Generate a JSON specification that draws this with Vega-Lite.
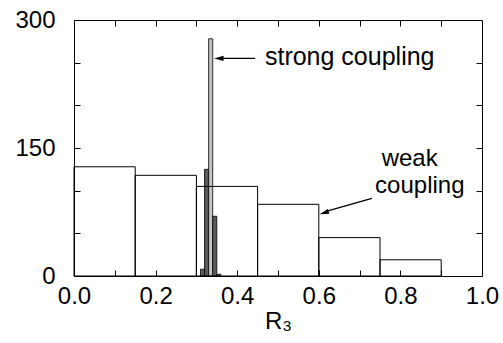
{
  "$schema": "https://vega.github.io/schema/vega-lite/v6.json",
  "width": 408,
  "height": 256,
  "autosize": "none",
  "padding": {"left": 74, "top": 20, "right": 21, "bottom": 67},
  "config": {
    "view": {"stroke": "black", "strokeWidth": 1},
    "font": "Liberation Sans",
    "axis": {
      "domainColor": "black",
      "tickColor": "black",
      "labelColor": "black",
      "titleColor": "black",
      "grid": false,
      "labelFont": "Liberation Sans",
      "titleFont": "Liberation Sans",
      "labelFontSize": 24,
      "titleFontSize": 24,
      "titleFontWeight": "normal",
      "tickWidth": 1
    }
  },
  "datasets": {
    "hist": [
      {"coupling": "weak", "r_start": 0.0, "r_end": 0.15, "count": 128},
      {"coupling": "weak", "r_start": 0.15, "r_end": 0.3, "count": 118},
      {"coupling": "weak", "r_start": 0.3, "r_end": 0.45, "count": 105},
      {"coupling": "weak", "r_start": 0.45, "r_end": 0.6, "count": 84},
      {"coupling": "weak", "r_start": 0.6, "r_end": 0.75, "count": 45},
      {"coupling": "weak", "r_start": 0.75, "r_end": 0.9, "count": 19},
      {"coupling": "strong", "r_start": 0.31, "r_end": 0.32, "count": 8},
      {"coupling": "strong", "r_start": 0.32, "r_end": 0.33, "count": 125},
      {"coupling": "strong", "r_start": 0.33, "r_end": 0.34, "count": 278},
      {"coupling": "strong", "r_start": 0.34, "r_end": 0.35, "count": 70},
      {"coupling": "strong", "r_start": 0.35, "r_end": 0.36, "count": 2}
    ]
  },
  "resolve": {"axis": {"x": "independent", "y": "independent"}},
  "layer": [
    {
      "data": {"name": "hist"},
      "transform": [{"filter": "datum.coupling == 'strong'"}],
      "mark": {"type": "rect", "stroke": "black", "strokeWidth": 0.8},
      "encoding": {
        "x": {"field": "r_start", "type": "quantitative",
              "scale": {"domain": [0, 1], "nice": false, "zero": false},
              "axis": {"orient": "top", "labels": false, "title": null, "domain": false,
                       "values": [0.1, 0.2, 0.3, 0.4, 0.5, 0.6, 0.7, 0.8, 0.9], "tickSize": 6, "offset": -6}},
        "x2": {"field": "r_end"},
        "y": {"field": "count", "type": "quantitative",
              "scale": {"domain": [0, 300], "nice": false},
              "axis": {"orient": "right", "labels": false, "title": null, "domain": false,
                       "values": [50, 100, 150, 200, 250], "tickSize": 6, "offset": -6}},
        "y2": {"datum": 0},
        "fill": {"condition": {"test": "datum.count > 200", "value": "#c4c4c4"}, "value": "#5a5a5a"}
      }
    },
    {
      "data": {"name": "hist"},
      "transform": [{"filter": "datum.coupling == 'weak'"}],
      "mark": {"type": "rect", "stroke": "black", "strokeWidth": 1, "fill": "white", "fillOpacity": 0},
      "encoding": {
        "x": {"field": "r_start", "type": "quantitative",
              "axis": {"orient": "bottom", "title": "R₃", "domain": false,
                       "values": [0, 0.1, 0.2, 0.3, 0.4, 0.5, 0.6, 0.7, 0.8, 0.9, 1.0],
                       "labelExpr": "round(datum.value * 10) % 2 == 0 ? format(datum.value, '.1f') : ''",
                       "tickSize": 6, "offset": -6, "labelPadding": 8, "titlePadding": 1, "labelFlush": false}},
        "x2": {"field": "r_end"},
        "y": {"field": "count", "type": "quantitative",
              "axis": {"orient": "left", "title": null, "domain": false,
                       "values": [0, 50, 100, 150, 200, 250, 300],
                       "labelExpr": "datum.value % 150 == 0 ? datum.label : ''",
                       "tickSize": 6, "offset": -6, "labelPadding": 19, "labelFlush": false}},
        "y2": {"datum": 0}
      }
    },
    {
      "data": {"values": [{}]},
      "mark": {"type": "text", "align": "left", "baseline": "alphabetic", "fontSize": 25, "font": "Liberation Sans", "color": "black", "text": "strong coupling"},
      "encoding": {"x": {"datum": 0.468, "type": "quantitative", "axis": null}, "y": {"datum": 247, "type": "quantitative", "axis": null}}
    },
    {
      "data": {"values": [{}]},
      "mark": {"type": "text", "align": "left", "baseline": "alphabetic", "fontSize": 24, "font": "Liberation Sans", "color": "black", "text": "weak"},
      "encoding": {"x": {"datum": 0.754, "type": "quantitative", "axis": null}, "y": {"datum": 129, "type": "quantitative", "axis": null}}
    },
    {
      "data": {"values": [{}]},
      "mark": {"type": "text", "align": "left", "baseline": "alphabetic", "fontSize": 24, "font": "Liberation Sans", "color": "black", "text": "coupling"},
      "encoding": {"x": {"datum": 0.738, "type": "quantitative", "axis": null}, "y": {"datum": 97.3, "type": "quantitative", "axis": null}}
    },
    {
      "data": {"values": [{}]},
      "mark": {"type": "rule", "color": "black", "strokeWidth": 1.2},
      "encoding": {
        "x": {"datum": 0.444, "type": "quantitative", "axis": null},
        "x2": {"datum": 0.36},
        "y": {"datum": 255, "type": "quantitative", "axis": null},
        "y2": {"datum": 255}
      }
    },
    {
      "data": {"values": [{}]},
      "mark": {"type": "point", "shape": "M0,-1L0.55,1L-0.55,1Z", "filled": true, "color": "black", "size": 90, "angle": 270, "opacity": 1},
      "encoding": {
        "x": {"datum": 0.355, "type": "quantitative", "axis": null},
        "y": {"datum": 255, "type": "quantitative", "axis": null}
      }
    },
    {
      "data": {"values": [{}]},
      "mark": {"type": "rule", "color": "black", "strokeWidth": 1.2},
      "encoding": {
        "x": {"datum": 0.73, "type": "quantitative", "axis": null},
        "x2": {"datum": 0.62},
        "y": {"datum": 91, "type": "quantitative", "axis": null},
        "y2": {"datum": 76}
      }
    },
    {
      "data": {"values": [{}]},
      "mark": {"type": "point", "shape": "M0,-1L0.55,1L-0.55,1Z", "filled": true, "color": "black", "size": 90, "angle": 252, "opacity": 1},
      "encoding": {
        "x": {"datum": 0.613, "type": "quantitative", "axis": null},
        "y": {"datum": 74, "type": "quantitative", "axis": null}
      }
    }
  ]
}
